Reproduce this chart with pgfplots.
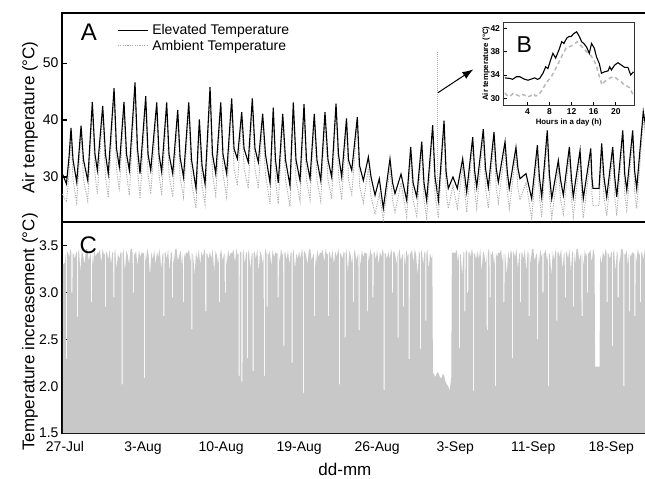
\documentclass[border=0pt]{standalone}
\usepackage{fontspec}
\setmainfont{Liberation Sans}
\usepackage{pgfplots}
\pgfplotsset{compat=1.18}
\usepackage{pgfplotstable}
\usetikzlibrary{arrows.meta}
\definecolor{fillc}{RGB}{200,200,200}
\definecolor{ambc}{RGB}{172,172,172}
\definecolor{insamb}{RGB}{185,185,185}

\pgfplotstableread{
d elev amb
-0.22 30.5 27.0
0.13 28.8 25.6
0.36 33.5 30.5
0.54 38.6 37.0
0.72 33.0 29.5
1.05 29.1 25.5
1.44 39.0 37.8
1.66 33.0 29.5
2.04 29.4 25.8
2.45 43.2 42.0
2.69 34.0 30.5
2.90 31.2 27.0
3.38 42.5 41.3
3.63 34.0 30.0
3.88 30.6 26.4
4.40 45.6 44.5
4.62 35.0 31.5
4.87 31.8 27.5
5.29 43.2 42.0
5.52 34.0 30.5
5.77 31.2 26.8
6.28 46.6 45.2
6.50 35.0 31.5
6.73 30.6 26.2
7.24 44.2 43.0
7.45 34.0 30.5
7.69 31.2 27.0
8.23 43.1 41.8
8.43 34.0 30.5
8.67 30.9 26.8
9.12 43.1 42.0
9.33 34.0 30.5
9.66 30.6 26.5
10.11 41.8 40.5
10.32 33.5 30.0
10.63 30.0 26.5
11.10 43.1 42.0
11.35 33.0 29.0
11.75 28.0 24.5
12.05 40.1 38.8
12.29 32.0 28.5
12.56 28.8 25.2
13.01 45.8 44.5
13.23 34.0 30.5
13.52 30.6 26.8
13.97 43.1 41.8
14.17 34.0 30.5
14.50 30.6 26.5
14.95 43.8 42.5
15.16 35.0 31.5
15.46 33.2 28.5
15.85 41.4 40.0
16.06 35.0 31.5
16.44 32.6 28.0
16.80 43.8 42.5
17.04 35.0 31.5
17.34 32.6 28.0
17.73 41.1 40.0
17.98 34.0 30.5
18.39 29.0 25.3
18.68 42.2 41.0
18.88 33.0 29.5
19.13 29.0 25.2
19.53 41.1 40.0
19.78 33.0 29.5
20.18 28.5 24.8
20.48 43.1 42.0
20.72 33.0 29.5
21.08 29.4 25.8
21.44 42.8 41.5
21.66 33.0 29.5
21.98 29.7 26.0
22.36 41.1 40.0
22.60 33.0 29.5
22.94 29.4 25.8
23.32 41.4 40.2
23.59 33.0 29.5
23.92 30.0 26.2
24.31 42.9 41.8
24.53 34.0 30.5
24.82 30.0 26.0
25.25 40.3 39.0
25.43 33.0 29.5
25.72 31.2 27.0
26.22 40.5 39.5
26.42 32.0 28.5
26.76 29.4 25.5
27.21 33.5 31.5
27.45 30.0 26.5
27.81 26.8 23.5
28.19 29.7 27.0
28.55 24.5 22.5
29.15 33.2 31.5
29.38 29.0 26.0
29.60 27.1 23.8
30.14 30.5 29.0
30.65 25.9 23.0
31.01 35.3 34.0
31.22 29.0 26.0
31.55 26.5 23.2
32.00 36.2 35.0
32.20 29.0 26.0
32.44 25.9 22.8
32.98 39.1 38.0
33.19 30.0 27.0
33.49 25.9 22.8
34.00 39.9 38.8
34.18 31.0 27.5
34.38 28.0 24.5
34.80 30.0 28.5
35.19 28.0 24.5
35.67 33.2 31.8
36.03 27.4 23.8
36.57 37.0 35.8
36.75 31.0 27.5
36.93 28.2 24.5
37.52 38.4 37.0
37.72 31.5 28.0
37.97 28.2 24.5
38.48 37.9 36.5
38.68 31.5 28.0
38.87 29.1 25.5
39.47 36.2 35.0
39.67 31.0 27.5
39.85 28.0 24.5
40.45 35.2 34.0
40.63 31.5 28.0
40.81 29.7 26.0
41.35 30.6 29.0
41.86 26.2 22.8
42.37 35.6 34.2
42.55 30.0 26.5
42.76 26.5 23.0
43.26 38.2 37.0
43.45 30.5 27.0
43.66 26.2 22.8
44.25 32.9 31.5
44.45 29.5 26.0
44.70 26.8 23.5
45.24 35.3 34.0
45.42 30.0 26.5
45.59 26.5 23.0
46.20 34.7 33.5
46.35 29.5 26.0
46.49 26.2 22.8
47.16 35.0 33.8
47.26 30.0 27.0
47.36 28.0 25.0
47.90 28.0 25.0
48.14 35.9 34.6
48.34 30.0 26.5
48.59 26.5 23.2
49.13 35.3 34.0
49.31 30.0 26.5
49.49 26.5 23.2
50.03 38.2 37.0
50.21 30.5 27.0
50.39 27.7 24.2
50.92 38.2 37.0
51.10 31.0 27.5
51.28 28.0 24.5
51.87 41.5 40.2
52.16 38.0 36.0
}\tempdata

\pgfplotsset{
  /pgf/number format/assume math mode=true,
  every tick label/.append style={font=\fontsize{14}{14}\selectfont},
  every axis label/.append style={font=\fontsize{17}{17}\selectfont},
}

\begin{document}
\begin{tikzpicture}
\useasboundingbox (0pt,0pt) rectangle (645pt,479pt);

% ---------------- Panel C ----------------
\begin{axis}[
  at={(62pt,46pt)}, anchor=south west,
  scale only axis, width=584.5pt, height=211pt,
  xmin=-0.27, xmax=52.16, ymin=1.5, ymax=3.755,
  axis line style={line width=1.6pt},
  tick style={line width=1.2pt, black},
  tick align=inside, major tick length=5pt,
  xtick={0,7,14,21,28,35,42,49},
  xticklabels={27-Jul,3-Aug,10-Aug,19-Aug,26-Aug,3-Sep,11-Sep,18-Sep},
  ytick={1.5,2.0,2.5,3.0,3.5},
  yticklabel style={/pgf/number format/.cd, fixed, fixed zerofill, precision=1},
  xtick pos=bottom, ytick pos=left,
  xticklabel style={yshift=-5pt},
  xlabel={dd-mm},
  xlabel style={at={(axis description cs:0.484,-0.171)}, anchor=center},
  ylabel={Temperature increasement (°C)},
  ylabel style={at={(axis description cs:-0.0547,0.479)}, anchor=center},
]
\addplot[fill=fillc, draw=none] coordinates {
(-0.2,3.30)(0,3.32)(0.075,3.42)(0.08,2.29)(0.17,2.29)(0.175,3.42)(0.25,3.44)(0.375,3.38)(0.5,3.47)(0.575,3.42)(0.58,3.00)(0.67,3.00)(0.675,3.42)(0.75,3.42)(0.875,3.36)
(1,3.44)(1.075,3.42)(1.08,2.74)(1.17,2.74)(1.175,3.42)(1.25,3.47)(1.375,3.22)(1.5,3.45)(1.625,3.40)(1.75,3.30)(1.875,3.46)
(2,3.47)(2.125,3.34)(2.25,3.40)(2.325,3.42)(2.33,2.90)(2.42,2.90)(2.425,3.42)(2.5,3.28)(2.625,3.46)(2.75,3.38)(2.875,3.43)
(3,3.42)(3.125,3.46)(3.25,3.32)(3.375,3.47)(3.5,3.40)(3.575,3.42)(3.58,2.85)(3.67,2.85)(3.675,3.42)(3.75,3.44)(3.875,3.35)
(4,3.46)(4.125,3.30)(4.25,3.44)(4.325,3.42)(4.33,2.95)(4.42,2.95)(4.425,3.42)(4.5,3.47)(4.625,3.25)(4.75,3.42)(4.875,3.36)
(5,3.44)(5.075,3.42)(5.08,2.02)(5.17,2.02)(5.175,3.42)(5.25,3.47)(5.375,3.22)(5.5,3.45)(5.625,3.40)(5.75,3.30)(5.875,3.46)
(6,3.47)(6.075,3.42)(6.08,3.00)(6.17,3.00)(6.175,3.42)(6.25,3.40)(6.375,3.45)(6.5,3.28)(6.625,3.46)(6.75,3.38)(6.875,3.43)
(7,3.42)(7.075,3.42)(7.08,2.09)(7.17,2.09)(7.175,3.42)(7.25,3.32)(7.375,3.47)(7.5,3.40)(7.625,3.18)(7.75,3.44)(7.875,3.35)
(8,3.46)(8.125,3.30)(8.25,3.44)(8.375,3.38)(8.5,3.47)(8.625,3.25)(8.75,3.42)(8.825,3.42)(8.83,2.75)(8.92,2.75)(8.925,3.42)
(9,3.44)(9.125,3.36)(9.25,3.47)(9.375,3.22)(9.5,3.45)(9.575,3.42)(9.58,2.95)(9.67,2.95)(9.675,3.42)(9.75,3.30)(9.875,3.46)
(10,3.47)(10.125,3.34)(10.25,3.40)(10.375,3.45)(10.5,3.28)(10.575,3.42)(10.58,2.90)(10.67,2.90)(10.675,3.42)(10.75,3.38)(10.875,3.43)
(11,3.42)(11.125,3.46)(11.25,3.32)(11.325,3.42)(11.33,2.61)(11.42,2.61)(11.425,3.42)(11.5,3.40)(11.625,3.18)(11.75,3.44)(11.875,3.35)
(12,3.46)(12.125,3.30)(12.25,3.44)(12.375,3.38)(12.5,3.47)(12.575,3.42)(12.58,2.80)(12.67,2.80)(12.675,3.42)(12.75,3.42)(12.875,3.36)
(13,3.44)(13.125,3.36)(13.25,3.47)(13.375,3.22)(13.5,3.45)(13.625,3.40)(13.75,3.30)(13.825,3.42)(13.83,2.90)(13.92,2.90)(13.925,3.42)
(14,3.47)(14.125,3.34)(14.25,3.40)(14.325,3.42)(14.33,3.00)(14.42,3.00)(14.425,3.42)(14.5,3.28)(14.625,3.46)(14.75,3.38)(14.875,3.43)
(15,3.42)(15.125,3.46)(15.25,3.32)(15.375,3.47)(15.5,3.40)(15.575,3.42)(15.58,2.11)(15.67,2.11)(15.675,3.42)(15.75,3.44)(15.825,3.42)(15.83,2.05)(15.92,2.05)(15.925,3.42)
(16,3.46)(16.125,3.30)(16.25,3.44)(16.325,3.42)(16.33,2.30)(16.42,2.30)(16.425,3.42)(16.5,3.47)(16.625,3.25)(16.75,3.42)(16.825,3.42)(16.83,2.16)(16.92,2.16)(16.925,3.42)
(17,3.44)(17.125,3.36)(17.25,3.47)(17.375,3.22)(17.5,3.45)(17.625,3.40)(17.75,3.30)(17.825,3.42)(17.83,2.11)(17.92,2.11)(17.925,3.42)
(18,3.47)(18.075,3.42)(18.08,2.85)(18.17,2.85)(18.175,3.42)(18.25,3.40)(18.375,3.45)(18.5,3.28)(18.625,3.46)(18.75,3.38)(18.875,3.43)
(19,3.42)(19.075,3.42)(19.08,2.95)(19.17,2.95)(19.175,3.42)(19.25,3.32)(19.375,3.47)(19.5,3.40)(19.575,3.42)(19.58,2.43)(19.67,2.43)(19.675,3.42)(19.75,3.44)(19.875,3.35)
(20,3.46)(20.125,3.30)(20.25,3.44)(20.325,3.42)(20.33,2.25)(20.42,2.25)(20.425,3.42)(20.5,3.47)(20.625,3.25)(20.75,3.42)(20.875,3.36)
(21,3.44)(21.125,3.36)(21.25,3.47)(21.325,3.42)(21.33,1.93)(21.42,1.93)(21.425,3.42)(21.5,3.45)(21.625,3.40)(21.75,3.30)(21.875,3.46)
(22,3.47)(22.125,3.34)(22.25,3.40)(22.325,3.42)(22.33,2.75)(22.42,2.75)(22.425,3.42)(22.5,3.28)(22.625,3.46)(22.75,3.38)(22.875,3.43)
(23,3.42)(23.125,3.46)(23.25,3.32)(23.375,3.47)(23.5,3.40)(23.575,3.42)(23.58,2.75)(23.67,2.75)(23.675,3.42)(23.75,3.44)(23.875,3.35)
(24,3.46)(24.125,3.30)(24.25,3.44)(24.375,3.38)(24.5,3.47)(24.575,3.42)(24.58,2.02)(24.67,2.02)(24.675,3.42)(24.75,3.42)(24.875,3.36)
(25,3.44)(25.075,3.42)(25.08,2.52)(25.17,2.52)(25.175,3.42)(25.25,3.47)(25.375,3.22)(25.5,3.45)(25.625,3.40)(25.75,3.30)(25.825,3.42)(25.83,2.90)(25.92,2.90)(25.925,3.42)
(26,3.47)(26.125,3.34)(26.25,3.40)(26.325,3.42)(26.33,2.60)(26.42,2.60)(26.425,3.42)(26.5,3.28)(26.625,3.46)(26.75,3.38)(26.875,3.43)
(27,3.42)(27.075,3.42)(27.08,2.80)(27.17,2.80)(27.175,3.42)(27.25,3.32)(27.375,3.47)(27.5,3.40)(27.575,3.42)(27.58,2.95)(27.67,2.95)(27.675,3.42)(27.75,3.44)(27.875,3.35)
(28,3.46)(28.125,3.30)(28.25,3.44)(28.375,3.38)(28.5,3.47)(28.575,3.42)(28.58,1.96)(28.67,1.96)(28.675,3.42)(28.75,3.42)(28.875,3.36)
(29,3.44)(29.125,3.36)(29.25,3.47)(29.325,3.42)(29.33,3.00)(29.42,3.00)(29.425,3.42)(29.5,3.45)(29.625,3.40)(29.75,3.30)(29.825,3.42)(29.83,2.52)(29.92,2.52)(29.925,3.42)
(30,3.47)(30.125,3.34)(30.25,3.40)(30.325,3.42)(30.33,2.85)(30.42,2.85)(30.425,3.42)(30.5,3.28)(30.625,3.46)(30.75,3.38)(30.825,3.42)(30.83,2.29)(30.92,2.29)(30.925,3.42)
(31,3.42)(31.125,3.46)(31.25,3.32)(31.375,3.47)(31.5,3.40)(31.625,3.18)(31.75,3.44)(31.825,3.42)(31.83,2.40)(31.92,2.40)(31.925,3.42)
(32,3.46)(32.125,3.30)(32.25,3.44)(32.325,3.42)(32.33,2.70)(32.42,2.70)(32.425,3.42)(32.5,3.47)(32.625,3.25)(32.75,3.42)(32.875,3.36)
(32.95,3.40)(33.0,2.15)(33.125,2.12)(33.25,2.10)(33.375,2.15)(33.5,2.14)(33.625,2.10)(33.75,2.08)(33.875,2.13)(34,2.12)(34.125,2.05)(34.25,2.02)(34.375,2.00)(34.5,1.95)(34.65,2.10)(34.7,3.45)
(34.75,3.42)(34.875,3.43)
(35,3.42)(35.125,3.46)(35.25,3.32)(35.325,3.42)(35.33,2.41)(35.42,2.41)(35.425,3.42)(35.5,3.40)(35.625,3.18)(35.75,3.44)(35.825,3.42)(35.83,2.80)(35.92,2.80)(35.925,3.42)
(36,3.46)(36.075,3.42)(36.08,3.00)(36.17,3.00)(36.175,3.42)(36.25,3.44)(36.375,3.38)(36.5,3.47)(36.575,3.42)(36.58,1.95)(36.67,1.95)(36.675,3.42)(36.75,3.42)(36.875,3.36)
(37,3.44)(37.125,3.36)(37.25,3.47)(37.375,3.22)(37.5,3.45)(37.625,3.40)(37.75,3.30)(37.825,3.42)(37.83,2.60)(37.92,2.60)(37.925,3.42)
(38,3.47)(38.075,3.42)(38.08,2.95)(38.17,2.95)(38.175,3.42)(38.25,3.40)(38.375,3.45)(38.5,3.28)(38.575,3.42)(38.58,2.00)(38.67,2.00)(38.675,3.42)(38.75,3.38)(38.875,3.43)
(39,3.42)(39.125,3.46)(39.25,3.32)(39.325,3.42)(39.33,2.90)(39.42,2.90)(39.425,3.42)(39.5,3.40)(39.625,3.18)(39.75,3.44)(39.875,3.35)
(40,3.46)(40.075,3.42)(40.08,2.30)(40.17,2.30)(40.175,3.42)(40.25,3.44)(40.375,3.38)(40.5,3.47)(40.625,3.25)(40.75,3.42)(40.825,3.42)(40.83,2.90)(40.92,2.90)(40.925,3.42)
(41,3.44)(41.125,3.36)(41.25,3.47)(41.375,3.22)(41.5,3.45)(41.575,3.42)(41.58,2.75)(41.67,2.75)(41.675,3.42)(41.75,3.30)(41.875,3.46)
(42,3.47)(42.125,3.34)(42.25,3.40)(42.325,3.42)(42.33,2.50)(42.42,2.50)(42.425,3.42)(42.5,3.28)(42.625,3.46)(42.75,3.38)(42.825,3.42)(42.83,3.00)(42.92,3.00)(42.925,3.42)
(43,3.42)(43.125,3.46)(43.25,3.32)(43.325,3.42)(43.33,2.00)(43.42,2.00)(43.425,3.42)(43.5,3.40)(43.625,3.18)(43.75,3.44)(43.875,3.35)
(44,3.46)(44.075,3.42)(44.08,2.70)(44.17,2.70)(44.175,3.42)(44.25,3.44)(44.375,3.38)(44.5,3.47)(44.625,3.25)(44.75,3.42)(44.825,3.42)(44.83,2.95)(44.92,2.95)(44.925,3.42)
(45,3.44)(45.125,3.36)(45.25,3.47)(45.375,3.22)(45.5,3.45)(45.575,3.42)(45.58,2.85)(45.67,2.85)(45.675,3.42)(45.75,3.30)(45.875,3.46)
(46,3.47)(46.125,3.34)(46.25,3.40)(46.325,3.42)(46.33,2.75)(46.42,2.75)(46.425,3.42)(46.5,3.28)(46.625,3.46)(46.75,3.38)(46.825,3.42)(46.83,3.00)(46.92,3.00)(46.925,3.42)
(47,3.42)(47.125,3.46)(47.25,3.32)(47.375,3.47)(47.5,3.40)(47.55,2.21)(47.75,2.21)(47.95,2.21)(48.0,3.40)
(48.125,3.30)(48.25,3.44)(48.375,3.38)(48.5,3.47)(48.575,3.42)(48.58,2.90)(48.67,2.90)(48.675,3.42)(48.75,3.42)(48.875,3.36)
(49,3.44)(49.075,3.42)(49.08,2.43)(49.17,2.43)(49.175,3.42)(49.25,3.47)(49.375,3.22)(49.5,3.45)(49.575,3.42)(49.58,2.95)(49.67,2.95)(49.675,3.42)(49.75,3.30)(49.875,3.46)
(50,3.47)(50.075,3.42)(50.08,2.00)(50.17,2.00)(50.175,3.42)(50.25,3.40)(50.375,3.45)(50.5,3.28)(50.575,3.42)(50.58,2.80)(50.67,2.80)(50.675,3.42)(50.75,3.38)(50.875,3.43)
(51,3.42)(51.075,3.42)(51.08,2.75)(51.17,2.75)(51.175,3.42)(51.25,3.32)(51.375,3.47)(51.5,3.40)(51.575,3.42)(51.58,2.90)(51.67,2.90)(51.675,3.42)(51.75,3.44)(51.875,3.35)
(52,3.46)(52.2,3.40)
} \closedcycle;
\node[font=\fontsize{24}{24}\selectfont] at (axis description cs:0.045,0.891) {C};
\end{axis}

% ---------------- Panel A ----------------
\begin{axis}[
  at={(62pt,257pt)}, anchor=south west,
  scale only axis, width=584.5pt, height=209pt,
  xmin=-0.27, xmax=52.16, ymin=22.1, ymax=58.8,
  axis line style={line width=1.6pt},
  tick style={line width=1.2pt, black},
  tick align=inside, major tick length=5pt,
  xtick=\empty, ytick={30,40,50}, ytick pos=left,
  ylabel={Air temperature (°C)},
  ylabel style={at={(axis description cs:-0.0547,0.5)}, anchor=center},
  reverse legend,
  legend cell align=left,
  legend style={at={(axis description cs:0.0941,0.956)}, anchor=north west,
    draw=none, fill=none, font=\fontsize{14}{14}\selectfont,
    row sep=0pt, inner sep=0pt},
  legend image code/.code={\draw[#1] (0pt,0pt) -- (30pt,0pt); \path (32pt,0pt);},
]
\addplot[ambc, line width=0.9pt, dash pattern=on 1.2pt off 1.2pt] table[x=d, y=amb] {\tempdata};
\addlegendentry{Ambient Temperature}
\addplot[black, line width=1.1pt] table[x=d, y=elev] {\tempdata};
\addlegendentry{Elevated Temperature}
\draw[ambc, line width=0.8pt, dash pattern=on 1pt off 1pt] (axis cs:33.37,51.9) -- (axis cs:33.37,25.9);
\draw[-{Latex[length=11pt,width=8pt]}, line width=1pt] (axis cs:33.45,44.8) -- (axis cs:36.63,48.9);
\node[font=\fontsize{24}{24}\selectfont] at (axis description cs:0.046,0.907) {A};
\end{axis}

% ---------------- Inset B ----------------
\begin{axis}[
  at={(503.5pt,374pt)}, anchor=south west,
  scale only axis, width=130.5pt, height=82.7pt,
  xmin=-0.35, xmax=23.3, ymin=28.85, ymax=43.03,
  axis background/.style={fill=white},
  axis line style={line width=0.8pt, black!80},
  tick style={line width=0.7pt, black},
  tick align=inside, major tick length=3pt,
  xtick={4,8,12,16,20}, ytick={30,34,38,42},
  xtick pos=bottom, ytick pos=left,
  tick label style={font=\bfseries\fontsize{8.5}{9}\selectfont},
  xlabel={Hours in a day (h)}, ylabel={Air temperature (°C)},
  label style={font=\bfseries\fontsize{7.8}{8}\selectfont},
  xlabel style={at={(axis description cs:0.5,-0.21)}, anchor=center},
  ylabel style={at={(axis description cs:-0.134,0.5)}, anchor=center},
]
\addplot[insamb, line width=1.5pt, dash pattern=on 4pt off 3pt] coordinates {
(-0.1,30.9)(0.5,30.3)(1,30.5)(1.5,30.9)(2,30.6)(2.5,30.4)(3,30.7)(3.5,30.5)(4,30.2)(4.5,30.4)(5,30.8)(5.5,30.4)(6,30.6)(6.5,31.2)(7,32.0)(7.5,32.8)(8,33.3)(8.5,34.0)(9,34.9)(9.5,35.8)(10,36.8)(10.5,37.8)(11,38.6)(11.5,38.8)(12,39.0)(12.5,39.3)(13,39.7)(13.5,39.2)(14,38.7)(14.5,38.2)(15,37.7)(15.5,37.3)(16,36.6)(16.5,35.5)(17,33.8)(17.5,32.3)(18,32.9)(18.5,33.2)(19,33.5)(19.5,33.7)(20,33.5)(20.5,33.1)(21,32.8)(21.5,32.3)(22,32.1)(22.5,31.8)(23.2,30.5)
};
\addplot[black, line width=1.1pt] coordinates {
(-0.1,33.5)(0.8,33.4)(1.3,33.25)(2.0,33.7)(2.6,33.7)(3.5,33.25)(4.1,33.1)(4.7,33.3)(5.3,33.5)(5.8,33.25)(6.2,33.4)(6.8,34.3)(7.3,35.4)(7.7,35.1)(8.2,36.6)(8.6,37.7)(9.1,36.9)(9.7,38.3)(10.2,39.7)(10.6,39.4)(11.1,40.3)(11.5,40.6)(11.9,40.6)(12.4,41.1)(12.9,41.4)(13.4,40.6)(13.8,39.7)(14.2,39.4)(14.7,38.8)(15.2,37.7)(15.6,39.4)(16.1,38.6)(16.5,37.1)(17.0,36.0)(17.4,34.3)(18.0,34.55)(18.6,34.7)(18.9,35.4)(19.2,34.85)(19.8,35.7)(20.4,36.1)(21.0,35.7)(21.6,35.3)(22.2,35.3)(22.7,34.0)(23.2,34.55)
};
\node[font=\fontsize{23}{23}\selectfont] at (axis description cs:0.16,0.725) {B};
\end{axis}
\end{tikzpicture}
\end{document}
